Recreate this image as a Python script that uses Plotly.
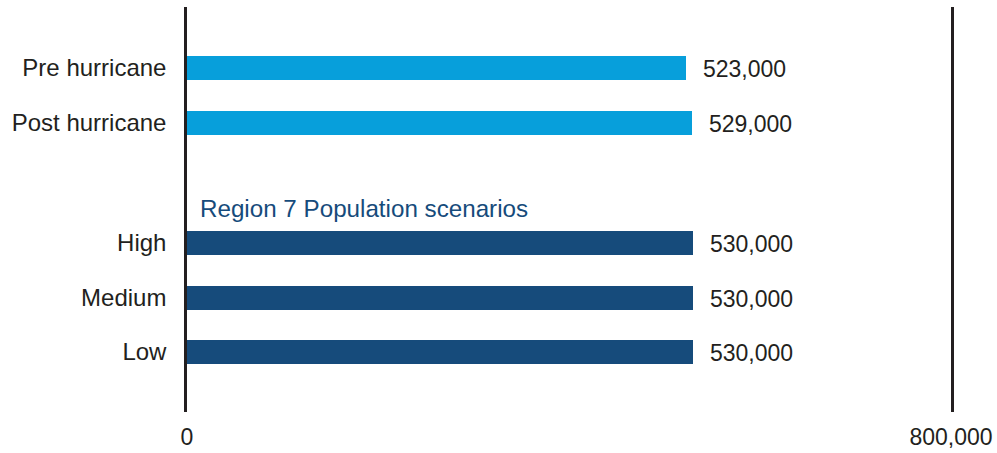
import plotly.graph_objects as go

# Population estimates and scenarios
actual_labels = ["Pre hurricane", "Post hurricane"]
actual_values = [523000, 529000]

scenario_labels = ["High", "Medium", "Low"]
scenario_values = [530000, 530000, 530000]

group_title = "Region 7 Population scenarios"
x_tick_values = [0, 800000]
x_tick_text = ["0", "800,000"]

LIGHT_BLUE = "#079fdb"
DARK_BLUE = "#164b7b"
TEXT = "#231f20"
FONT = "Liberation Sans, Arial, Helvetica, sans-serif"

# Row positions: two groups separated by an extra gap for the group heading
GROUP_GAP = 1.21
actual_pos = [i for i in range(len(actual_labels))]
scenario_pos = [len(actual_labels) + GROUP_GAP + i for i in range(len(scenario_labels))]
BAR_W = 0.44

fig = go.Figure()
fig.add_trace(go.Bar(
    x=actual_values, y=actual_pos, orientation="h",
    marker=dict(color=LIGHT_BLUE, line=dict(width=0)), width=BAR_W,
    hoverinfo="skip", showlegend=False,
))
fig.add_trace(go.Bar(
    x=scenario_values, y=scenario_pos, orientation="h",
    marker=dict(color=DARK_BLUE, line=dict(width=0)), width=BAR_W,
    hoverinfo="skip", showlegend=False,
))

# Value labels at the end of each bar
for v, p in list(zip(actual_values, actual_pos)) + list(zip(scenario_values, scenario_pos)):
    fig.add_annotation(
        x=v, y=p, xref="x", yref="y", text=f"{v:,}", showarrow=False,
        xanchor="left", yanchor="middle", xshift=15, yshift=-1,
        font=dict(family=FONT, size=23, color=TEXT),
    )

# Heading for the scenario group
fig.add_annotation(
    x=0, y=(actual_pos[-1] + scenario_pos[0]) / 2 + 0.47, xref="x", yref="y",
    text=group_title, showarrow=False, xanchor="left", yanchor="middle",
    xshift=11, font=dict(family=FONT, size=24.2, color=DARK_BLUE),
)

fig.update_layout(
    width=997, height=453,
    margin=dict(l=187, r=46, t=7, b=41),
    paper_bgcolor="white", plot_bgcolor="white",
    bargap=0,
    font=dict(family=FONT, size=23, color=TEXT),
    xaxis=dict(
        range=[0, 800000], tickvals=x_tick_values, ticktext=x_tick_text,
        showgrid=False, zeroline=False, showline=False,
        ticks="outside", ticklen=4, tickcolor="rgba(0,0,0,0)",
        tickfont=dict(family=FONT, size=23, color=TEXT),
        automargin=False, fixedrange=True,
    ),
    yaxis=dict(
        range=[6.31, -1.12],
        tickvals=actual_pos + scenario_pos,
        ticktext=actual_labels + scenario_labels,
        showgrid=False, zeroline=False,
        showline=True, mirror=True, linecolor=TEXT, linewidth=2.5,
        ticks="outside", ticklen=13, tickcolor="rgba(0,0,0,0)",
        tickfont=dict(family=FONT, size=24, color=TEXT),
        automargin=False, fixedrange=True,
    ),
)

fig.write_html("out.html")
